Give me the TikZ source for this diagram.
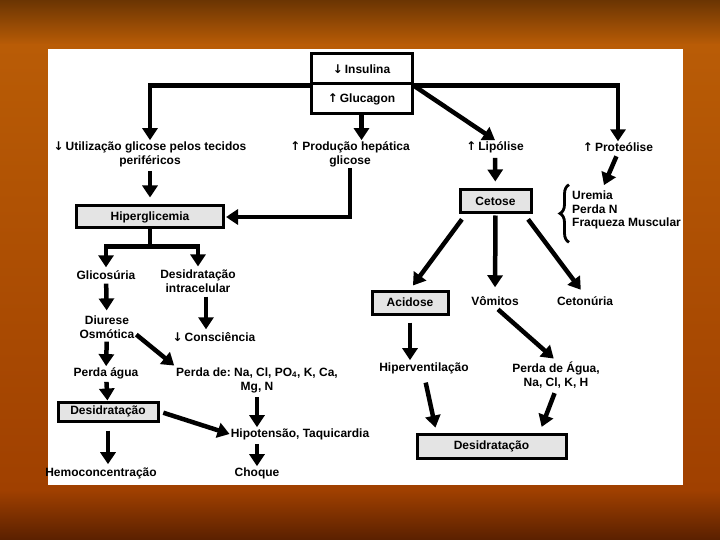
\documentclass[tikz,border=0pt]{standalone}
\usepackage{fontspec}
\setmainfont{Liberation Sans}
\newfontfamily\arrfont{DejaVu Sans}
\newcommand\dnarr{{\arrfont\bfseries ↓}}
\newcommand\uparr{{\arrfont\bfseries ↑}}
\usetikzlibrary{arrows.meta,decorations.pathreplacing,calc}
\definecolor{bgtop}{HTML}{6B3503}
\definecolor{bgmid}{HTML}{B95C06}
\definecolor{bglow}{HTML}{A04000}
\definecolor{bgdark}{HTML}{5A2000}
\definecolor{boxgray}{HTML}{E4E4E4}
\begin{document}
\begin{tikzpicture}[x=1pt,y=-1pt,
  txt/.style={font=\fontsize{12}{14}\selectfont\bfseries\frenchspacing, inner sep=1pt, align=center},
  gbox/.style={txt, draw, line width=3pt, fill=boxgray, minimum height=22pt, inner sep=0pt},
  wbox/.style={txt, draw, line width=3pt, fill=white, minimum width=101pt, minimum height=30pt, inner sep=0pt},
  arr/.style={line width=4.5pt, -{Triangle[width=15pt,length=12pt]}},
  ln/.style={line width=4.5pt}]
\useasboundingbox (0,0) rectangle (720,540);
% background
\fill[bgmid] (0,0) rectangle (720,540);
\shade[top color=bgtop, bottom color=bgmid] (0,0) rectangle (720,45);
\shade[top color=bgmid, bottom color=bglow] (0,45) rectangle (720,490);
\shade[top color=bglow, bottom color=bgdark] (0,490) rectangle (720,540);
\fill[white] (48,49) rectangle (683,485);

% top box
\node[wbox] (ins) at (361.5,69) {\dnarr\,Insulina};
\node[wbox] (glu) at (361.5,99) {\uparr\,Glucagon};

% first row
\node[txt] (util) at (150,154) {\dnarr\,Utilização glicose pelos tecidos\\periféricos};
\node[txt] (prod) at (350,154) {\uparr\,Produção hepática\\glicose};
\node[txt] (lip) at (495,147) {\uparr\,Lipólise};
\node[txt] (prot) at (618,147) {\uparr\,Proteólise};

\draw[arr] (ins.south west) -| (util.north);
\draw[arr] (glu.south) -- (glu.south |- prod.north);
\draw[arr, shorten <=2pt] (ins.south east) -- (lip.north);
\draw[arr] (ins.south east) -| (prot.north);

% left column
\node[gbox, minimum width=147pt] (hyp) at (150,217) {Hiperglicemia};
\draw[arr, shorten <=3pt, shorten >=7pt] (util.south) -- (util.south |- hyp.north);
\draw[arr, shorten >=1pt] (prod.south) |- (hyp.east);

\node[txt] (glic) at (106,275) {Glicosúria};
\node[txt] (intra) at (198,281) {Desidratação\\intracelular};
\draw[ln] (hyp.south) -- ++(0,17) coordinate (br);
\draw[arr, shorten >=2pt] (br) -| (glic.north);
\draw[arr, shorten >=2pt] (br) -| (intra.north);

\node[txt] (diur) at (107,327) {Diurese\\Osmótica};
\node[txt] (consc) at (214,337) {\dnarr\,Consciência};
\draw[arr, shorten <=3pt, shorten >=4pt] (glic) -- (diur);
\draw[arr, shorten <=3pt, shorten >=2pt] ([xshift=8pt]intra.south) -- ([xshift=8pt]intra.south |- consc.north);

\node[txt] (pagua) at (106,373) {Perda água};
\node[txt] (perdade) at (257,380) {Perda de: Na, Cl, PO\textsubscript{4}, K, Ca,\\Mg, N};
\draw[arr, shorten <=2pt] (diur) -- (pagua);
\draw[arr, shorten <=1pt, shorten >=1pt] ([yshift=-7pt]diur.east) -- (perdade.north west);

\node[gbox, minimum width=100pt, minimum height=19pt] (desid1) at (108,411.5) {Desidratação};
\draw[arr, shorten <=2pt] (pagua) -- (desid1);

\node[txt] (hipo) at (300,434) {Hipotensão, Taquicardia};
\draw[arr, shorten <=4pt] (desid1.east) -- (hipo.west);
\draw[arr, shorten <=3pt] (perdade.south) -- (perdade.south |- hipo.north);

\node[txt] (choq) at (257,473) {Choque};
\draw[arr, shorten <=3pt] (choq.north |- hipo.south) -- (choq.north);
\node[txt] (hemo) at (101,473) {Hemoconcentração};
\draw[arr, shorten <=8pt, shorten >=2pt] (desid1.south) -- (desid1.south |- hemo.north);

% right column
\node[gbox, minimum width=71pt, minimum height=23pt] (cet) at (495.5,201.5) {Cetose};
\draw[arr, shorten <=4pt, shorten >=7pt] (lip) -- (cet);
\node[txt, align=left, anchor=west, font=\fontsize{12}{13.5}\selectfont\bfseries] (urem) at (571,210) {Uremia\\Perda N\\Fraqueza Muscular};
\draw[arr, shorten <=4pt, shorten >=5pt] (prot.south) -- ([xshift=31pt]urem.north west);
\draw[line width=2.8pt, decorate, decoration={brace, amplitude=9pt}]
  ($(urem.south west)+(-2,12)$) -- ($(urem.north west)+(-2,-5)$);

\node[gbox, minimum width=76pt, minimum height=23pt] (aci) at (410,302.5) {Acidose};
\node[txt] (vom) at (495,301) {Vômitos};
\node[txt] (cetn) at (585,301) {Cetonúria};
\draw[arr, shorten <=6pt, shorten >=5pt] ([xshift=7pt]cet.south west) -- (aci.north);
\draw[arr, shorten <=1pt, shorten >=8pt] (cet.south) -- (vom.north);
\draw[arr, shorten <=6pt, shorten >=7pt] ([xshift=-8pt]cet.south east) -- (cetn.north);

\node[txt] (hiperv) at (424,368) {Hiperventilação};
\node[txt] (pag2) at (556,375) {Perda de Água,\\Na, Cl, K, H};
\draw[arr, shorten <=7pt, shorten >=1pt] (aci.south) -- (aci.south |- hiperv.north);
\draw[arr, shorten <=4pt, shorten >=3pt] (vom.south) -- (pag2.north);

\node[gbox, minimum width=149pt, minimum height=24pt] (desid2) at (491.5,446) {Desidratação};
\draw[arr, shorten <=8pt, shorten >=5pt] (hiperv.south) -- ([xshift=21pt]desid2.north west);
\draw[arr, shorten <=4pt, shorten >=6pt] (pag2.south) -- ([xshift=-28pt]desid2.north east);
\end{tikzpicture}
\end{document}
